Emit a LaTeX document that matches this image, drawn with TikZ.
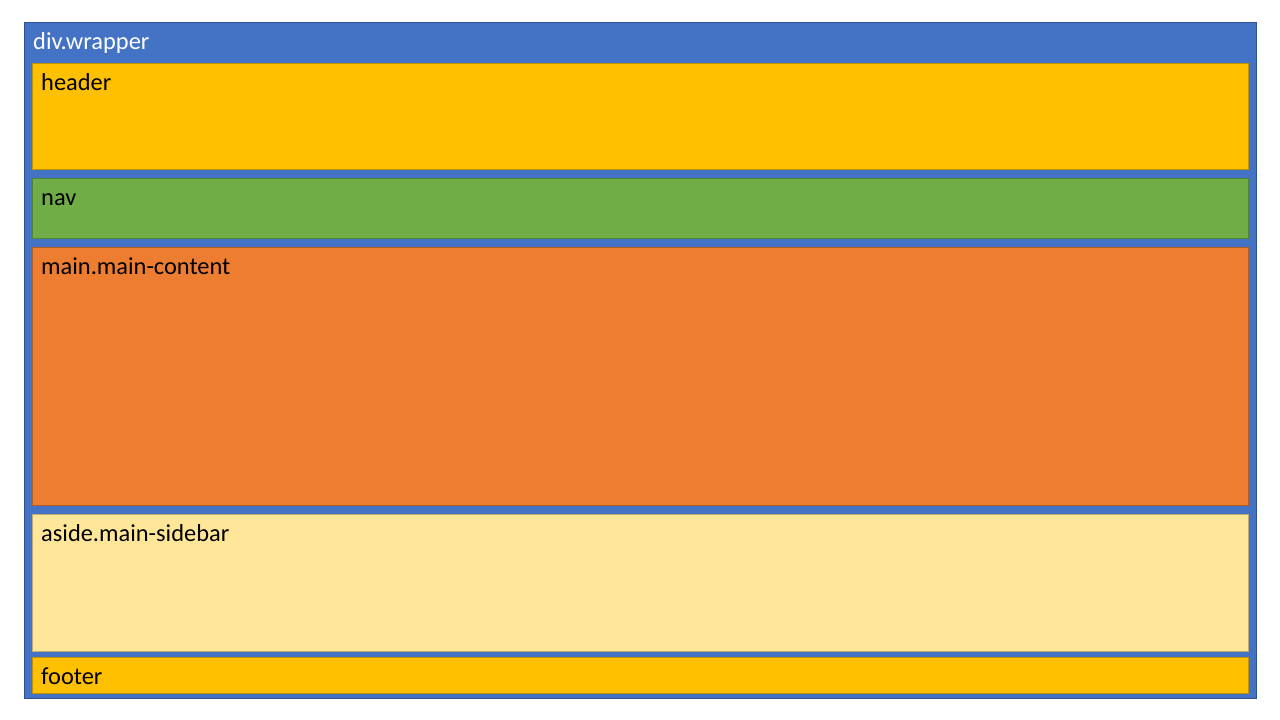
\documentclass[tikz,border=0pt]{standalone}
\usepackage{fontspec}
\setmainfont{Carlito}
\usepackage{xcolor}
\definecolor{wrapblue}{HTML}{4472C4}
\definecolor{wrapedge}{HTML}{2F528F}
\definecolor{hdrgold}{HTML}{FFC000}
\definecolor{navgreen}{HTML}{70AD47}
\definecolor{mainorange}{HTML}{ED7D31}
\definecolor{asidecream}{HTML}{FFE699}

\begin{document}
\begin{tikzpicture}[x=1pt, y=-1pt,
    block/.style={draw=#1!75!black, fill=#1, line width=1pt, inner sep=0pt,
                  anchor=north west},
    tag/.style={anchor=base west, inner sep=0pt, font=\fontsize{24.4}{29}\selectfont}]
    \useasboundingbox (0,0) rectangle (1280,720);

    % outer wrapper
    \node[draw=wrapedge, fill=wrapblue, line width=1pt, inner sep=0pt, anchor=north west,
          minimum width=1232pt, minimum height=676pt] (wrapper) at (24,22) {};
    \node[tag, text=white] (wraplbl) at ([xshift=9pt, yshift=-27pt]wrapper.north west) {div.wrapper};

    % header
    \node[block=hdrgold, minimum width=1216pt, minimum height=106pt] (header) at (32,63) {};
    \node[tag] (headerlbl) at ([xshift=9pt, yshift=-27pt]header.north west) {header};

    % nav
    \node[block=navgreen, minimum width=1216pt, minimum height=60pt] (nav) at (32,178) {};
    \node[tag] (navlbl) at ([xshift=9pt, yshift=-27pt]nav.north west) {nav};

    % main content
    \node[block=mainorange, minimum width=1216pt, minimum height=258pt] (main) at (32,247) {};
    \node[tag] (mainlbl) at ([xshift=9pt, yshift=-27pt]main.north west) {main.main-content};

    % sidebar
    \node[block=asidecream, minimum width=1216pt, minimum height=137pt] (aside) at (32,514) {};
    \node[tag] (asidelbl) at ([xshift=9pt, yshift=-27pt]aside.north west) {aside.main-sidebar};

    % footer
    \node[block=hdrgold, minimum width=1216pt, minimum height=36pt] (footer) at (32,657) {};
    \node[tag] (footerlbl) at ([xshift=9pt, yshift=-27pt]footer.north west) {footer};
\end{tikzpicture}
\end{document}
